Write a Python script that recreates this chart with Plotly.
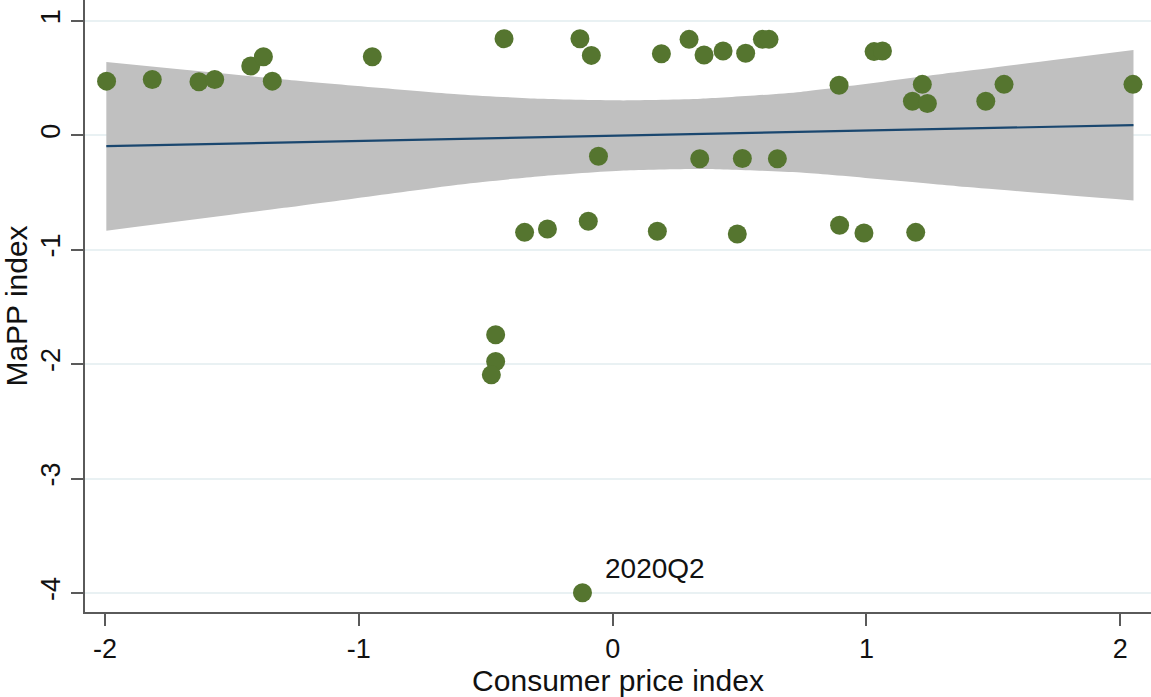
import plotly.graph_objects as go

# Quarterly observations: consumer price index (x) vs MaPP index (y)
cpi = [-1.994, -1.814, -1.630, -1.568, -1.426, -1.376, -1.341, -0.947,
       -0.428, -0.129, -0.084, 0.192, 0.301, 0.360, 0.435, 0.524,
       0.590, 0.616, -0.056, 0.343, 0.511, 0.649, -0.347, -0.257,
       -0.096, 0.176, 0.491, 1.030, 1.063, 0.892, 1.220, 1.181,
       1.240, 1.470, 1.542, 2.050, 0.894, 0.990, 1.194, -0.461,
       -0.461, -0.478, -0.119]
mapp = [0.472, 0.487, 0.467, 0.487, 0.604, 0.686, 0.472, 0.686,
        0.843, 0.843, 0.697, 0.712, 0.837, 0.700, 0.735, 0.715,
        0.837, 0.837, -0.184, -0.206, -0.204, -0.206, -0.849, -0.819,
        -0.752, -0.840, -0.863, 0.730, 0.735, 0.437, 0.444, 0.297,
        0.277, 0.297, 0.444, 0.444, -0.787, -0.854, -0.849, -1.744,
        -1.977, -2.094, -3.998]

# Linear fit and its 95% confidence band
fit_x = [-1.995, 2.052]
fit_y = [-0.096, 0.088]
band_x = [-1.995, -1.295, -0.599, -0.284, 0.043, 0.347, 0.741, 1.358, 2.052]
band_hi = [0.639, 0.487, 0.356, 0.318, 0.304, 0.318, 0.378, 0.551, 0.744]
band_lo = [-0.834, -0.635, -0.430, -0.359, -0.309, -0.295, -0.327, -0.446, -0.571]

label_text = "2020Q2"
label_x = -0.119
label_y = -3.998

x_ticks = [-2, -1, 0, 1, 2]
y_ticks = [-4, -3, -2, -1, 0, 1]

FONT = "Liberation Sans, Arial, sans-serif"
BAND = "#c0c0c0"

fig = go.Figure()
# lower edge first, then upper edge filled down to it
fig.add_trace(go.Scatter(
    x=band_x, y=band_lo, mode="lines",
    line=dict(width=0, color=BAND, shape="spline", smoothing=0.6),
    hoverinfo="skip", showlegend=False))
fig.add_trace(go.Scatter(
    x=band_x, y=band_hi, mode="lines", fill="tonexty", fillcolor=BAND,
    line=dict(width=0, color=BAND, shape="spline", smoothing=0.6),
    hoverinfo="skip", showlegend=False))
fig.add_trace(go.Scatter(
    x=fit_x, y=fit_y, mode="lines", line=dict(color="#1a476f", width=2.2),
    showlegend=False))
fig.add_trace(go.Scatter(
    x=cpi, y=mapp, mode="markers",
    marker=dict(color="#55752f", size=19, line=dict(width=0)),
    showlegend=False))

fig.add_annotation(x=label_x, y=label_y, text=label_text, showarrow=False,
                   xanchor="left", yanchor="middle", xshift=21, yshift=24,
                   font=dict(family=FONT, size=28, color="#111111"))

fig.update_layout(
    width=1151, height=697,
    margin=dict(l=85, r=0, t=0, b=85),
    paper_bgcolor="white", plot_bgcolor="white",
    font=dict(family=FONT, size=27, color="#111111"),
)
fig.update_xaxes(
    range=[-2.079, 2.121], tickvals=x_ticks, ticktext=[str(v) for v in x_ticks],
    showgrid=False, zeroline=False,
    showline=True, linecolor="#5a5a5a", linewidth=2,
    ticks="outside", ticklen=12, tickwidth=2, tickcolor="#5a5a5a",
    tickfont=dict(size=27),
    title=dict(text="Consumer price index", font=dict(size=30), standoff=5),
)
fig.update_yaxes(
    range=[-4.166, 1.181], tickvals=y_ticks, ticktext=[str(v) for v in y_ticks],
    showgrid=True, gridcolor="#e9f1f3", gridwidth=2, zeroline=False,
    showline=True, linecolor="#5a5a5a", linewidth=2,
    ticks="outside", ticklen=12, tickwidth=2, tickcolor="#5a5a5a",
    tickangle=-90, tickfont=dict(size=27),
    title=dict(text="MaPP index", font=dict(size=30), standoff=4),
)

fig.write_html("out.html")
